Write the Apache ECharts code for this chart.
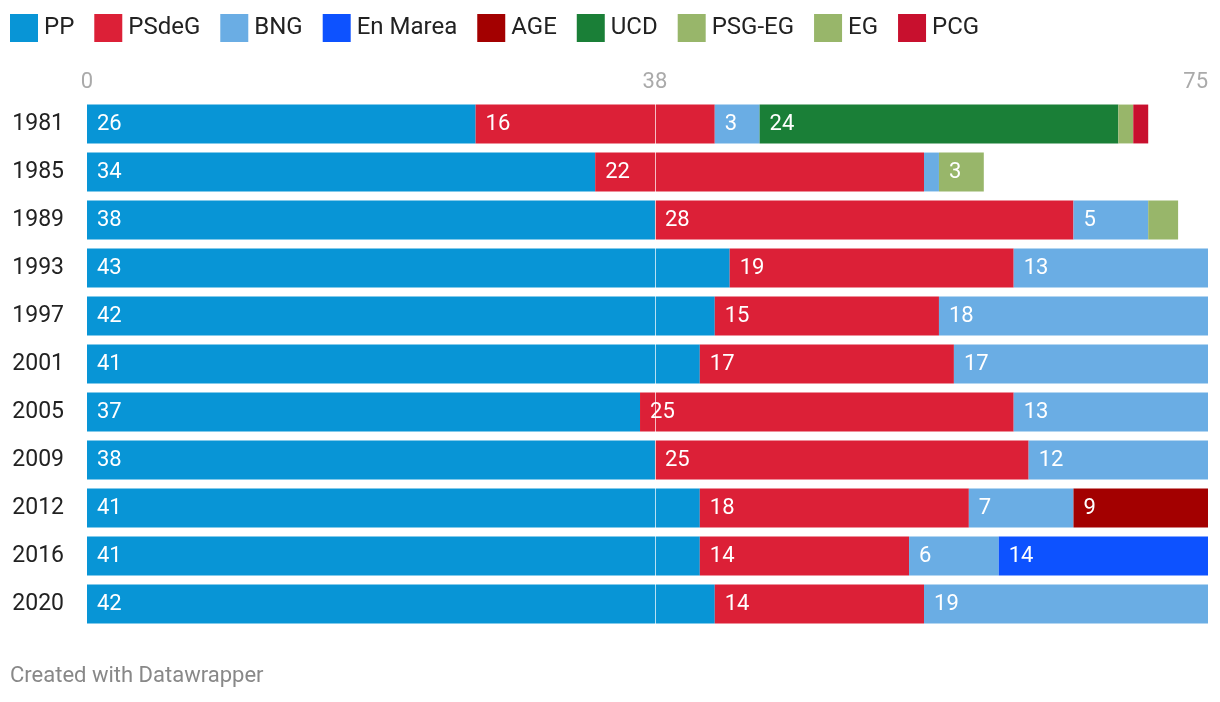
<!DOCTYPE html>
<html>
<head>
<meta charset="utf-8">
<script src="https://cdn.jsdelivr.net/npm/echarts@6/dist/echarts.min.js"></script>
<style>
html,body{margin:0;padding:0;background:#fff;}
#chart{width:1220px;height:702px;}
</style>
</head>
<body>
<div id="chart"></div>
<script>
const years = ['1981','1985','1989','1993','1997','2001','2005','2009','2012','2016','2020'];
const seriesNames = ['PP','PSdeG','BNG','En Marea','AGE','UCD','PSG-EG','EG','PCG'];
const PP      = [26,34,38,43,42,41,37,38,41,41,42];
const PSdeG   = [16,22,28,19,15,17,25,25,18,14,14];
const BNG     = [3,1,5,13,18,17,13,12,7,6,19];
const EnMarea = [0,0,0,0,0,0,0,0,0,14,0];
const AGE     = [0,0,0,0,0,0,0,0,9,0,0];
const UCD     = [24,0,0,0,0,0,0,0,0,0,0];
const PSGEG   = [0,3,2,0,0,0,0,0,0,0,0];
const EG      = [1,0,0,0,0,0,0,0,0,0,0];
const PCG     = [1,0,0,0,0,0,0,0,0,0,0];
const xTicks = [0,38,75];

const values = [PP,PSdeG,BNG,EnMarea,AGE,UCD,PSGEG,EG,PCG];
const colors = ['#0895d6','#dc2037','#6aade4','#0d52ff','#a30000','#1a7f37','#98b66a','#98b66a','#c8102e'];
const FONT = 'Roboto';

const series = seriesNames.map((name,i)=>({
  name, type:'bar', stack:'total',
  barCategoryGap:'19%',
  itemStyle:{color:colors[i]},
  data: values[i].map(v=> v===0 ? null : v),
  label:{
    show:true, position:'insideLeft', distance:10,
    color:'#fff', fontFamily:FONT, fontSize:22,
    formatter: p => (p.value>=3 ? String(p.value) : '')
  },
  emphasis:{disabled:true},
  silent:true
}));
series[series.length-1].markLine = {
  silent:true, symbol:'none', label:{show:false},
  lineStyle:{color:'rgba(255,255,255,0.7)', width:1, type:'solid'},
  data:[{xAxis:xTicks[1]}]
};

const chart = echarts.init(document.getElementById('chart'));
chart.setOption({
  animation:false,
  color: colors,
  legend:{
    left:10, top:14, padding:0, itemWidth:28, itemHeight:28, itemGap:20,
    icon:'rect',
    textStyle:{fontFamily:FONT, fontSize:24, color:'#222', padding:[0,0,0,1]},
    data: seriesNames
  },
  grid:{left:87, right:12, top:100, bottom:74, containLabel:false},
  xAxis:{
    type:'value', position:'top', min:xTicks[0], max:xTicks[2], interval:xTicks[1],
    axisLine:{show:false}, axisTick:{show:false},
    splitLine:{show:false},
    axisLabel:{color:'#aaa', fontFamily:FONT, fontSize:22, margin:7,
      alignMaxLabel:'right', showMaxLabel:true,
      formatter: v => (xTicks.indexOf(v)>=0 ? String(v) : '')}
  },
  yAxis:{
    type:'category', data:years, inverse:true,
    axisLine:{show:false}, axisTick:{show:false},
    axisLabel:{color:'#222', fontFamily:FONT, fontSize:23, margin:23}
  },
  graphic:[{
    type:'text', left:10, top:665,
    style:{text:'Created with Datawrapper', fill:'#888', font:'22px Roboto'}
  }],
  series
});
</script>
</body>
</html>
